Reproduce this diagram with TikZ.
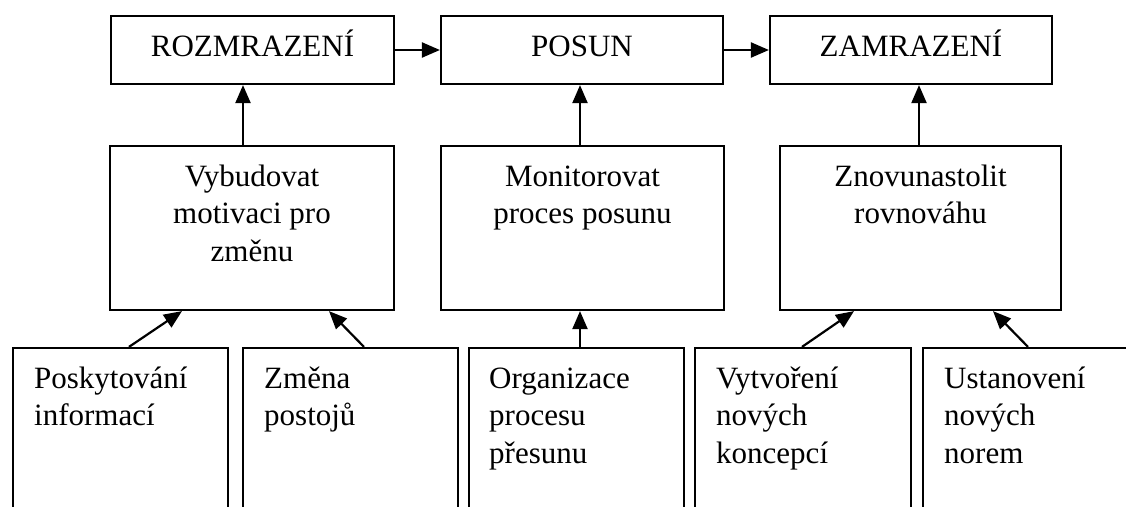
\documentclass[tikz,border=0pt]{standalone}
\usepackage{fontspec}
\setmainfont{Liberation Serif}
\usetikzlibrary{arrows.meta}
\tikzset{
  box/.style={draw, line width=2.2pt, inner sep=0pt, fill=none},
  txt/.style={inner sep=0pt, font=\fontsize{31}{37.5}\selectfont},
  arr/.style={line width=2.2pt, -{Triangle[length=18pt,width=15pt]}}
}
\newcommand{\ctext}[1]{\begin{tabular}[t]{@{}c@{}}#1\end{tabular}}
\newcommand{\ltext}[1]{\begin{tabular}[t]{@{}l@{}}#1\end{tabular}}
\begin{document}
\begin{tikzpicture}[x=1pt,y=-1pt]
\clip (0,0) rectangle (1126,506);
\fill[white] (0,0) rectangle (1126,506);
% top row
\node[box, minimum width=283pt, minimum height=68pt] (roz) at (252.5,50) {};
\node[box, minimum width=282pt, minimum height=68pt] (pos) at (582,50) {};
\node[box, minimum width=282pt, minimum height=68pt] (zam) at (911,50) {};
\node[txt, anchor=base] (troz) at (252.5,56) {ROZMRAZENÍ};
\node[txt, anchor=base] (tpos) at (582,56) {POSUN};
\node[txt, anchor=base] (tzam) at (911,56) {ZAMRAZENÍ};
% middle row
\node[box, minimum width=284pt, minimum height=164pt] (vyb) at (252,228) {};
\node[box, minimum width=283pt, minimum height=164pt] (mon) at (582.5,228) {};
\node[box, minimum width=281pt, minimum height=164pt] (zno) at (920.5,228) {};
\node[txt, anchor=base] (tvyb) at (252,186) {\ctext{Vybudovat\\motivaci pro\\změnu}};
\node[txt, anchor=base] (tmon) at (582.5,186) {\ctext{Monitorovat\\proces posunu}};
\node[txt, anchor=base] (tzno) at (920.5,186) {\ctext{Znovunastolit\\rovnováhu}};
% bottom row
\node[box, minimum width=215pt, minimum height=182pt] (b1) at (120.5,439) {};
\node[box, minimum width=215pt, minimum height=182pt] (b2) at (350.5,439) {};
\node[box, minimum width=215pt, minimum height=182pt] (b3) at (576.5,439) {};
\node[box, minimum width=216pt, minimum height=182pt] (b4) at (803,439) {};
\node[box, minimum width=216pt, minimum height=182pt] (b5) at (1031,439) {};
\node[txt, anchor=base west] (tb1) at (34,388) {\ltext{Poskytování\\informací}};
\node[txt, anchor=base west] (tb2) at (264,388) {\ltext{Změna\\postojů}};
\node[txt, anchor=base west] (tb3) at (489,388) {\ltext{Organizace\\procesu\\přesunu}};
\node[txt, anchor=base west] (tb4) at (716,388) {\ltext{Vytvoření\\nových\\koncepcí}};
\node[txt, anchor=base west] (tb5) at (944,388) {\ltext{Ustanovení\\nových\\norem}};
% horizontal arrows
\draw[arr] (roz.east) -- (pos.west);
\draw[arr] (pos.east) -- (zam.west);
% vertical arrows
\draw[arr] ([xshift=-9pt]vyb.north) -- ([xshift=-9.5pt]roz.south);
\draw[arr] ([xshift=-2.5pt]mon.north) -- ([xshift=-2pt]pos.south);
\draw[arr] ([xshift=-1.5pt]zno.north) -- ([xshift=8pt]zam.south);
% bottom arrows
\draw[arr] ([xshift=8.5pt]b1.north) -- ([xshift=-70pt]vyb.south);
\draw[arr] ([xshift=13.5pt]b2.north) -- ([xshift=77pt]vyb.south);
\draw[arr] ([xshift=3.5pt]b3.north) -- ([xshift=-2.5pt]mon.south);
\draw[arr] ([xshift=-1pt]b4.north) -- ([xshift=-66.5pt]zno.south);
\draw[arr] ([xshift=-3pt]b5.north) -- ([xshift=72.5pt]zno.south);
\end{tikzpicture}
\end{document}
